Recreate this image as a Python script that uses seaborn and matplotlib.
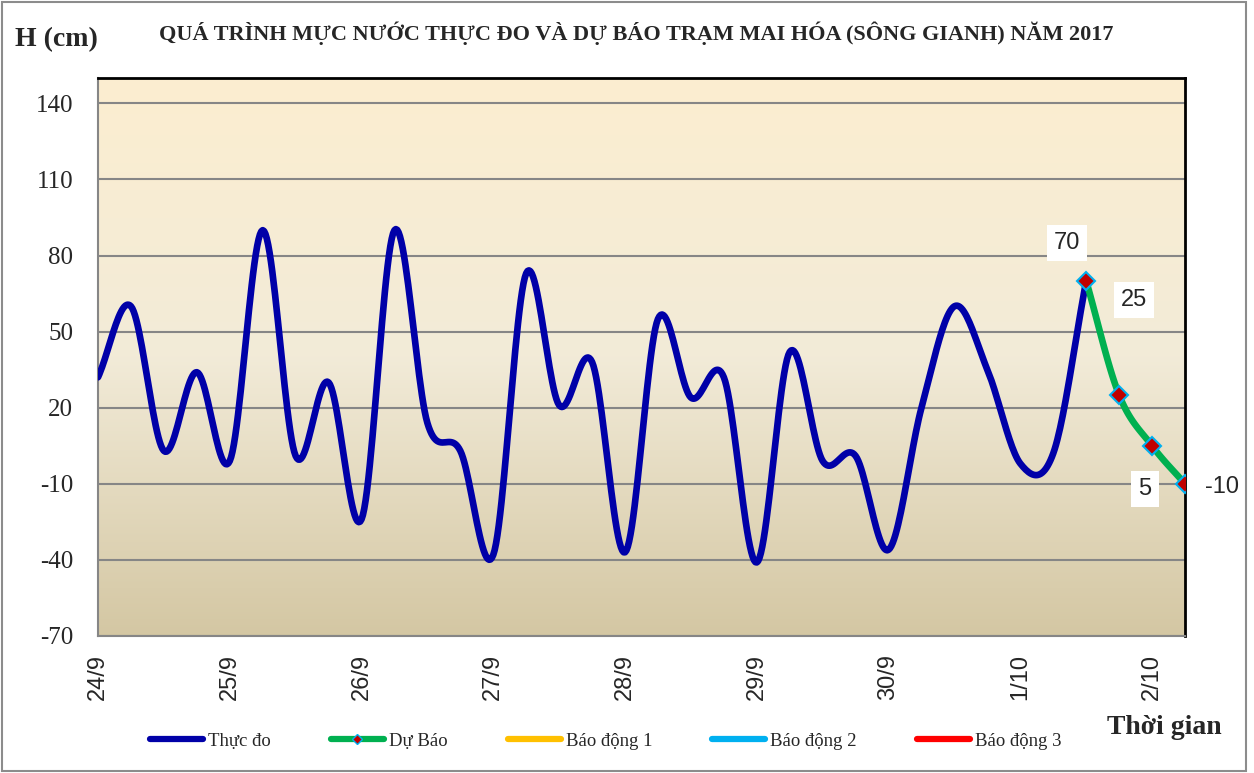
import matplotlib
matplotlib.use('Agg')
import matplotlib.pyplot as plt
from matplotlib.lines import Line2D
from matplotlib.patches import Rectangle
import seaborn as sns
import pandas as pd
import numpy as np

# Water level readings every 6 hours, starting 24/9 00h (cm)
obs_level = [32, 60, 3, 34, -1, 90, 1, 30, -24, 90,
             14, 3, -38, 73, 21, 38, -37, 55, 24, 32,
             -41, 42, -1, 1, -36, 20, 60, 35, -2, 2, 70]
fc_level = [70, 25, 5, -10]
fc_labels = ['70', '25', '5', '-10']
day_labels = ['24/9', '25/9', '26/9', '27/9', '28/9', '29/9', '30/9', '1/10', '2/10']
y_ticks = [-70, -40, -10, 20, 50, 80, 110, 140]
legend_names = ['Thực đo', 'Dự Báo', 'Báo động 1', 'Báo động 2', 'Báo động 3']

obs_t = np.arange(len(obs_level)) * 0.25
fc_t = (len(obs_level) - 1 + np.arange(len(fc_level))) * 0.25


def smooth(x, y, n=24):
    # smoothed line like the spreadsheet one (cardinal spline through the points)
    x = np.asarray(x, float)
    y = np.asarray(y, float)
    m = np.empty_like(y)
    m[1:-1] = (y[2:] - y[:-2]) / 2
    m[0] = y[1] - y[0]
    m[-1] = y[-1] - y[-2]
    t = np.linspace(0, 1, n, endpoint=False)
    h00 = 2 * t**3 - 3 * t**2 + 1
    h10 = t**3 - 2 * t**2 + t
    h01 = -2 * t**3 + 3 * t**2
    h11 = t**3 - t**2
    xs, ys = [], []
    for i in range(len(y) - 1):
        xs.append(x[i] + t * (x[i + 1] - x[i]))
        ys.append(h00 * y[i] + h10 * m[i] + h01 * y[i + 1] + h11 * m[i + 1])
    xs.append([x[-1]])
    ys.append([y[-1]])
    return pd.DataFrame({'t': np.concatenate(xs), 'h': np.concatenate(ys)})


sns.set_style('white')
plt.rcParams['font.family'] = ['Liberation Serif', 'DejaVu Serif']

fig = plt.figure(figsize=(12.54, 7.73), dpi=100)
ax = fig.add_axes([98 / 1254, 1 - 636 / 773, (1185 - 98) / 1254, (636 - 78) / 773])

# gradient background
c_top = np.array([252, 238, 208]) / 255
c_mid = np.array([242, 235, 216]) / 255
c_bot = np.array([212, 199, 163]) / 255
s = np.linspace(0, 1, 256)[:, None]
grad = np.where(s < 0.5, c_top + (c_mid - c_top) * (s / 0.5),
                c_mid + (c_bot - c_mid) * ((s - 0.5) / 0.5))
ax.imshow(grad[:, None, :], extent=[0, 8.25, -70, 150], aspect='auto', zorder=0)

sns.lineplot(data=smooth(obs_t, obs_level), x='t', y='h', ax=ax, color='#0000A8',
             lw=4.8, sort=False, zorder=3)
sns.lineplot(data=smooth(fc_t, fc_level), x='t', y='h', ax=ax, color='#00B050',
             lw=4.8, sort=False, zorder=4)
ax.plot(fc_t, fc_level, ls='none', marker='D', ms=9, mfc='#C00000', mec='#00B0F0',
        mew=1.5, zorder=5)

offsets = [(-19, 38), (15, 95), (-7, -43), (37, -3)]
for tx, v, lab, off in zip(fc_t, fc_level, fc_labels, offsets):
    ax.annotate(lab, (tx, v), xytext=off, textcoords='offset pixels',
                ha='center', va='center', fontsize=17, family='Liberation Sans',
                bbox=dict(boxstyle='square,pad=0.3', fc='white', ec='none'),
                zorder=6, annotation_clip=False)

ax.set_xlim(0, 8.25)
ax.set_ylim(-70, 150)
ax.set_yticks(y_ticks)
ax.set_yticklabels([str(v) for v in y_ticks], fontsize=18)
ax.set_xticks(range(len(day_labels)))
ax.set_xticklabels(day_labels, rotation=90, fontsize=17, family='Liberation Sans')
ax.set_xticks(np.arange(0, 8.26, 0.25), minor=True)
ax.tick_params(axis='y', direction='out', length=8, width=1.5, color='#868686', pad=10)
ax.tick_params(axis='x', which='both', direction='in', length=6, width=1.5,
               color='#868686', pad=13)
ax.grid(axis='y', color='#868686', lw=1.5)
ax.grid(axis='x', visible=False)
ax.set_axisbelow(True)
ax.set_xlabel('')
ax.set_ylabel('')
for side in ['left', 'bottom']:
    ax.spines[side].set_color('#868686')
    ax.spines[side].set_linewidth(1.5)
for side in ['top', 'right']:
    ax.spines[side].set_color('black')
    ax.spines[side].set_linewidth(2)

fig.text(56 / 1254, 1 - 40 / 773, 'H (cm)', ha='center', va='center',
         fontsize=20, fontweight='bold')
fig.text(636 / 1254, 1 - 33 / 773,
         'QUÁ TRÌNH MỰC NƯỚC THỰC ĐO VÀ DỰ BÁO TRẠM MAI HÓA (SÔNG GIANH) NĂM 2017',
         ha='center', va='center', fontsize=16, fontweight='bold')
fig.text(1164 / 1254, 1 - 727 / 773, 'Thời gian', ha='center', va='center',
         fontsize=20, fontweight='bold')

colors = ['#0000A8', '#00B050', '#FFC000', '#00B0F0', '#FF0000']
handles = []
for name, col in zip(legend_names, colors):
    if name == 'Dự Báo':
        handles.append(Line2D([], [], color=col, lw=4.5, marker='D', ms=5,
                              mfc='#C00000', mec='#00B0F0', label=name))
    else:
        handles.append(Line2D([], [], color=col, lw=4.5, label=name))
fig.legend(handles=handles, loc='center left', bbox_to_anchor=(150 / 1254, 1 - 741 / 773),
           ncol=5, frameon=False, fontsize=13.5, handlelength=2.83, handletextpad=0.27,
           columnspacing=3.2, borderpad=0, borderaxespad=0)

fig.add_artist(Rectangle((2 / 1254, 2 / 773), 1244 / 1254, 769 / 773,
                         transform=fig.transFigure, fill=False, ec='#8C8C8C', lw=1.5))

fig.savefig('out.png', dpi=100)
